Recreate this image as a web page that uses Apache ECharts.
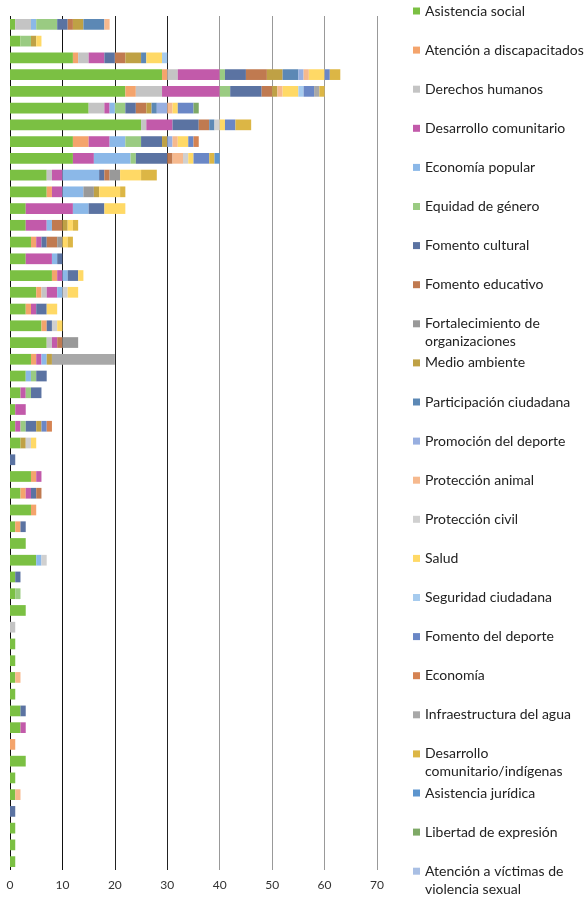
<!DOCTYPE html>
<html>
<head>
<meta charset="utf-8">
<script src="https://cdn.jsdelivr.net/npm/echarts@6/dist/echarts.min.js"></script>
<style>
  html, body { margin: 0; padding: 0; background: #fff; }
  #box { width: 587px; height: 900px; }
</style>
</head>
<body>
<div id="box"></div>
<script>
// filas (de arriba a abajo), sin etiqueta visible
let rows = [];
for (let i = 1; i <= 51; i++) rows.push(String(i));

let xTicks = [0, 10, 20, 30, 40, 50, 60, 70];

let seriesNames = [
  "Asistencia social",
  "Atención a discapacitados",
  "Derechos humanos",
  "Desarrollo comunitario",
  "Economía popular",
  "Equidad de género",
  "Fomento cultural",
  "Fomento educativo",
  "Fortalecimiento de organizaciones",
  "Medio ambiente",
  "Participación ciudadana",
  "Promoción del deporte",
  "Protección animal",
  "Protección civil",
  "Salud",
  "Seguridad ciudadana",
  "Fomento del deporte",
  "Economía",
  "Infraestructura del agua",
  "Desarrollo comunitario/indígenas",
  "Asistencia jurídica",
  "Libertad de expresión",
  "Atención a víctimas de violencia sexual"
];

let asistenciaSocial = [1, 2, 12, 29, 22, 15, 25, 12, 12, 7, 7, 3, 3, 4, 3, 8, 5, 3, 6, 7, 4, 3, 2, 1, 1, 2, 0, 4, 2, 4, 1, 3, 5, 1, 1, 3, 0, 1, 1, 1, 1, 2, 2, 0, 3, 1, 1, 0, 1, 1, 1];
let atencionDiscapacitados = [0, 0, 1, 1, 2, 0, 0, 3, 0, 0, 1, 0, 0, 1, 0, 1, 1, 1, 1, 0, 1, 0, 0, 0, 0, 0, 0, 1, 1, 1, 1, 0, 0, 0, 0, 0, 0, 0, 0, 0, 0, 0, 0, 1, 0, 0, 0, 0, 0, 0, 0];
let derechosHumanos = [3, 0, 2, 2, 5, 3, 1, 0, 0, 1, 0, 0, 0, 0, 0, 0, 1, 0, 0, 1, 0, 0, 0, 0, 0, 0, 0, 0, 0, 0, 0, 0, 0, 0, 0, 0, 1, 0, 0, 0, 0, 0, 0, 0, 0, 0, 0, 0, 0, 0, 0];
let desarrolloComunitario = [0, 0, 3, 8, 11, 1, 5, 4, 4, 2, 2, 9, 4, 1, 5, 1, 2, 1, 0, 1, 1, 0, 1, 2, 1, 0, 0, 1, 1, 0, 0, 0, 0, 0, 0, 0, 0, 0, 0, 0, 0, 0, 1, 0, 0, 0, 0, 0, 0, 0, 0];
let economiaPopular = [1, 0, 0, 0, 0, 1, 0, 3, 7, 7, 4, 3, 1, 0, 1, 1, 1, 0, 0, 0, 1, 1, 0, 0, 0, 0, 0, 0, 0, 0, 0, 0, 1, 0, 0, 0, 0, 0, 0, 0, 0, 0, 0, 0, 0, 0, 0, 0, 0, 0, 0];
let equidadGenero = [4, 2, 0, 1, 2, 2, 0, 3, 1, 0, 0, 0, 0, 0, 0, 0, 0, 0, 0, 0, 0, 1, 1, 0, 1, 0, 0, 0, 0, 0, 0, 0, 0, 0, 1, 0, 0, 0, 0, 0, 0, 0, 0, 0, 0, 0, 0, 0, 0, 0, 0];
let fomentoCultural = [2, 0, 2, 4, 6, 2, 5, 4, 6, 1, 0, 3, 0, 1, 1, 2, 0, 2, 1, 0, 0, 2, 2, 0, 2, 0, 1, 0, 1, 0, 1, 0, 0, 1, 0, 0, 0, 0, 0, 0, 0, 1, 0, 0, 0, 0, 0, 1, 0, 0, 0];
let fomentoEducativo = [1, 0, 2, 4, 2, 2, 2, 0, 1, 1, 0, 0, 2, 2, 0, 0, 0, 0, 0, 1, 0, 0, 0, 0, 0, 0, 0, 0, 1, 0, 0, 0, 0, 0, 0, 0, 0, 0, 0, 0, 0, 0, 0, 0, 0, 0, 0, 0, 0, 0, 0];
let fortalecimientoOrg = [0, 0, 0, 0, 0, 0, 0, 0, 0, 2, 2, 0, 0, 1, 0, 0, 0, 0, 0, 3, 0, 0, 0, 0, 0, 0, 0, 0, 0, 0, 0, 0, 0, 0, 0, 0, 0, 0, 0, 0, 0, 0, 0, 0, 0, 0, 0, 0, 0, 0, 0];
let medioAmbiente = [2, 1, 3, 3, 1, 1, 0, 1, 0, 0, 1, 0, 1, 0, 0, 0, 0, 0, 0, 0, 1, 0, 0, 0, 1, 1, 0, 0, 0, 0, 0, 0, 0, 0, 0, 0, 0, 0, 0, 0, 0, 0, 0, 0, 0, 0, 0, 0, 0, 0, 0];
let participacionCiudadana = [4, 0, 1, 3, 0, 1, 1, 0, 0, 0, 0, 0, 0, 0, 0, 0, 0, 0, 0, 0, 0, 0, 0, 0, 0, 0, 0, 0, 0, 0, 0, 0, 0, 0, 0, 0, 0, 0, 0, 0, 0, 0, 0, 0, 0, 0, 0, 0, 0, 0, 0];
let promocionDeporte = [0, 0, 0, 1, 0, 2, 0, 1, 0, 0, 0, 0, 0, 0, 0, 0, 0, 0, 0, 0, 0, 0, 0, 0, 0, 0, 0, 0, 0, 0, 0, 0, 0, 0, 0, 0, 0, 0, 0, 0, 0, 0, 0, 0, 0, 0, 0, 0, 0, 0, 0];
let proteccionAnimal = [1, 0, 0, 1, 1, 1, 0, 1, 2, 0, 0, 0, 0, 0, 0, 0, 0, 0, 0, 0, 0, 0, 0, 0, 0, 0, 0, 0, 0, 0, 0, 0, 0, 0, 0, 0, 0, 0, 0, 1, 0, 0, 0, 0, 0, 0, 1, 0, 0, 0, 0];
let proteccionCivil = [0, 0, 0, 0, 0, 0, 1, 0, 1, 0, 0, 0, 0, 0, 0, 0, 1, 0, 1, 0, 0, 0, 0, 0, 0, 1, 0, 0, 0, 0, 0, 0, 1, 0, 0, 0, 0, 0, 0, 0, 0, 0, 0, 0, 0, 0, 0, 0, 0, 0, 0];
let salud = [0, 1, 3, 3, 3, 1, 1, 2, 1, 4, 4, 4, 1, 1, 0, 1, 2, 2, 1, 0, 0, 0, 0, 0, 0, 1, 0, 0, 0, 0, 0, 0, 0, 0, 0, 0, 0, 0, 0, 0, 0, 0, 0, 0, 0, 0, 0, 0, 0, 0, 0];
let seguridadCiudadana = [0, 0, 1, 0, 1, 0, 0, 0, 0, 0, 0, 0, 0, 0, 0, 0, 0, 0, 0, 0, 0, 0, 0, 0, 0, 0, 0, 0, 0, 0, 0, 0, 0, 0, 0, 0, 0, 0, 0, 0, 0, 0, 0, 0, 0, 0, 0, 0, 0, 0, 0];
let fomentoDeporte = [0, 0, 0, 1, 2, 3, 2, 1, 3, 0, 0, 0, 0, 0, 0, 0, 0, 0, 0, 0, 0, 0, 0, 0, 1, 0, 0, 0, 0, 0, 0, 0, 0, 0, 0, 0, 0, 0, 0, 0, 0, 0, 0, 0, 0, 0, 0, 0, 0, 0, 0];
let economia = [0, 0, 0, 0, 0, 0, 0, 1, 0, 0, 0, 0, 0, 0, 0, 0, 0, 0, 0, 0, 0, 0, 0, 0, 1, 0, 0, 0, 0, 0, 0, 0, 0, 0, 0, 0, 0, 0, 0, 0, 0, 0, 0, 0, 0, 0, 0, 0, 0, 0, 0];
let infraestructuraAgua = [0, 0, 0, 0, 1, 0, 0, 0, 0, 0, 0, 0, 0, 0, 0, 0, 0, 0, 0, 0, 12, 0, 0, 0, 0, 0, 0, 0, 0, 0, 0, 0, 0, 0, 0, 0, 0, 0, 0, 0, 0, 0, 0, 0, 0, 0, 0, 0, 0, 0, 0];
let desarrolloIndigenas = [0, 0, 0, 2, 1, 0, 3, 0, 1, 3, 1, 0, 1, 1, 0, 0, 0, 0, 0, 0, 0, 0, 0, 0, 0, 0, 0, 0, 0, 0, 0, 0, 0, 0, 0, 0, 0, 0, 0, 0, 0, 0, 0, 0, 0, 0, 0, 0, 0, 0, 0];
let asistenciaJuridica = [0, 0, 0, 0, 0, 0, 0, 0, 1, 0, 0, 0, 0, 0, 0, 0, 0, 0, 0, 0, 0, 0, 0, 0, 0, 0, 0, 0, 0, 0, 0, 0, 0, 0, 0, 0, 0, 0, 0, 0, 0, 0, 0, 0, 0, 0, 0, 0, 0, 0, 0];
let libertadExpresion = [0, 0, 0, 0, 0, 1, 0, 0, 0, 0, 0, 0, 0, 0, 0, 0, 0, 0, 0, 0, 0, 0, 0, 0, 0, 0, 0, 0, 0, 0, 0, 0, 0, 0, 0, 0, 0, 0, 0, 0, 0, 0, 0, 0, 0, 0, 0, 0, 0, 0, 0];
let atencionVictimas = [0, 0, 0, 0, 0, 0, 0, 0, 0, 0, 0, 0, 0, 0, 0, 0, 0, 0, 0, 0, 0, 0, 0, 0, 0, 0, 0, 0, 0, 0, 0, 0, 0, 0, 0, 0, 0, 0, 0, 0, 0, 0, 0, 0, 0, 0, 0, 0, 0, 0, 0];

let seriesValues = [
  asistenciaSocial, atencionDiscapacitados, derechosHumanos, desarrolloComunitario,
  economiaPopular, equidadGenero, fomentoCultural, fomentoEducativo,
  fortalecimientoOrg, medioAmbiente, participacionCiudadana, promocionDeporte,
  proteccionAnimal, proteccionCivil, salud, seguridadCiudadana, fomentoDeporte,
  economia, infraestructuraAgua, desarrolloIndigenas, asistenciaJuridica,
  libertadExpresion, atencionVictimas
];

let colors = [
  "#7bc043", "#f4a46c", "#c4c4c4", "#c25aaa", "#8bb8e8", "#9acb82",
  "#5b73a2", "#c07a50", "#999999", "#bfa145", "#5c88b5", "#98afe0",
  "#f6b98e", "#d0d0d0", "#ffd966", "#a6cbee", "#6a87c6", "#d58352",
  "#a8a8a8", "#dcb645", "#5d95ce", "#7ea966", "#a9bfe4"
];

// nombres largos en dos líneas, como en la leyenda original
let legendWrap = {
  "Fortalecimiento de organizaciones": "Fortalecimiento de\norganizaciones",
  "Desarrollo comunitario/indígenas": "Desarrollo\ncomunitario/indígenas",
  "Atención a víctimas de violencia sexual": "Atención a víctimas de\nviolencia sexual"
};

let font = "Lato, 'Open Sans', sans-serif";
let chart = echarts.init(document.getElementById("box"), null, { renderer: "canvas" });

let series = seriesNames.map((name, i) => ({
  type: "bar",
  name: name,
  stack: "total",
  barCategoryGap: "36%",
  itemStyle: { color: colors[i] },
  data: seriesValues[i]
}));

// una leyenda por entrada: paso fijo de 39px; en las de dos líneas se antepone
// una línea vacía para que la primera quede a la altura del cuadrito
let legendStep = 39.1, legendFirst = 11, lineH = 18;
let legends = seriesNames.map((name, i) => {
  let wrapped = !!legendWrap[name];
  let center = legendFirst + i * legendStep;
  return {
    orient: "vertical",
    left: 413,
    top: wrapped ? center - 1.5 * lineH : center - lineH / 2,
    padding: 0,
    icon: "rect",
    itemWidth: 7,
    itemHeight: 7,
    data: [name],
    formatter: n => (legendWrap[n] ? "\n" + legendWrap[n] : n),
    textStyle: {
      fontFamily: font,
      fontSize: 14,
      color: "#222",
      lineHeight: lineH
    }
  };
});

let option = {
  animation: false,
  color: colors,
  textStyle: { fontFamily: font },
  grid: { left: 10, right: 210, top: 16, bottom: 30 },
  legend: legends,
  xAxis: {
    type: "value",
    min: xTicks[0],
    max: xTicks[xTicks.length - 1],
    interval: 10,
    axisLine: { show: false },
    axisTick: { show: false },
    axisLabel: { color: "#333", fontSize: 12, fontFamily: font, margin: 9 },
    splitLine: {
      show: true,
      lineStyle: {
        width: 1,
        color: ["#111", "#111", "#222", "#222", "#999", "#999", "#999", "#999"]
      }
    }
  },
  yAxis: {
    type: "category",
    inverse: true,
    data: rows,
    axisLine: { show: false },
    axisTick: { show: false },
    axisLabel: { show: false },
    splitLine: { show: false }
  },
  series: series
};

chart.setOption(option);
</script>
</body>
</html>
